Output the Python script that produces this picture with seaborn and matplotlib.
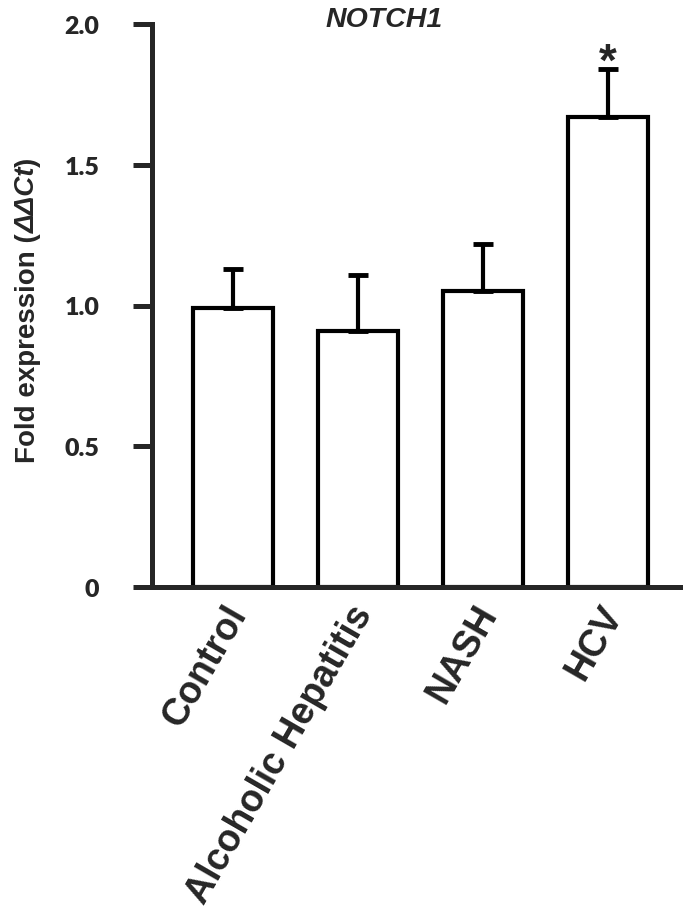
import numpy as np
import pandas as pd
import seaborn as sns
import matplotlib.pyplot as plt
from matplotlib.transforms import ScaledTranslation

# values
groups = ["Control", "Alcoholic Hepatitis", "NASH", "HCV"]
fold = [0.99, 0.91, 1.05, 1.67]
sem = [0.14, 0.20, 0.17, 0.17]
signif = ["", "", "", "*"]
yticks = [0, 0.5, 1.0, 1.5, 2.0]
ytick_labels = ["0", "0.5", "1.0", "1.5", "2.0"]

sns.set_style("ticks")
plt.rcParams['font.family'] = ['Liberation Sans', 'DejaVu Sans']

df = pd.DataFrame({'group': groups, 'fold': fold})

fig = plt.figure(figsize=(6.87, 9.2), dpi=100)
ax = fig.add_axes([152/687, 1 - 588/920, (680-152)/687, (588-25)/920])

sns.barplot(data=df, x='group', y='fold', color='white', edgecolor='black',
            linewidth=3, width=0.64, errorbar=None, saturation=1, ax=ax)

# upper-only error bars
xpos = np.arange(len(groups))
ax.errorbar(xpos, fold, yerr=[np.zeros(len(sem)), sem], fmt='none',
            ecolor='black', elinewidth=3, capsize=7, capthick=3.5, zorder=1)

for x, v, e, s in zip(xpos, fold, sem, signif):
    if s:
        ax.text(x, v + e - 0.02, s, ha='center', va='baseline',
                fontsize=33, fontweight='bold')

ax.set_xlim(-0.648, 3.576)
ax.set_ylim(0, 2.0)
ax.set_yticks(yticks)
ax.set_yticklabels(ytick_labels, family='Lato', fontweight='heavy', fontsize=18)
ax.tick_params(axis='y', direction='out', length=14, width=3.6, pad=24)
ax.tick_params(axis='x', length=0, pad=6)
shift = ScaledTranslation(6/100, -12/100, fig.dpi_scale_trans)
for lab in ax.get_xticklabels():
    lab.set_rotation(60)
    lab.set_ha('right')
    lab.set_va('center')
    lab.set_rotation_mode('anchor')
    lab.set_fontsize(27)
    lab.set_fontweight('bold')
    lab.set_transform(lab.get_transform() + shift)

for sp in ['left', 'bottom']:
    ax.spines[sp].set_linewidth(3.6)
ax.spines['top'].set_visible(False)
ax.spines['right'].set_visible(False)

# y label in three pieces so that ΔΔCt can be italic
ax.set_xlabel('')
ax.set_ylabel('')
ylab = ax.text(-0.21, 0.222, 'Fold expression (', transform=ax.transAxes,
               rotation=90, ha='right', va='bottom', fontsize=20,
               fontweight='bold')
part2 = ax.annotate('ΔΔCt', xy=(0.5, 1), xycoords=ylab, rotation=90,
                    ha='center', va='bottom', fontsize=20,
                    fontweight='bold', fontstyle='italic')
ax.annotate(')', xy=(0.5, 1), xycoords=part2, rotation=90,
            ha='center', va='bottom', fontsize=20, fontweight='bold')

ax.text(1.21, 1.993, 'NOTCH1', ha='center', va='baseline', fontsize=20.5,
        fontweight='bold', fontstyle='italic')

fig.savefig('out.png', dpi=100)
plt.close(fig)
